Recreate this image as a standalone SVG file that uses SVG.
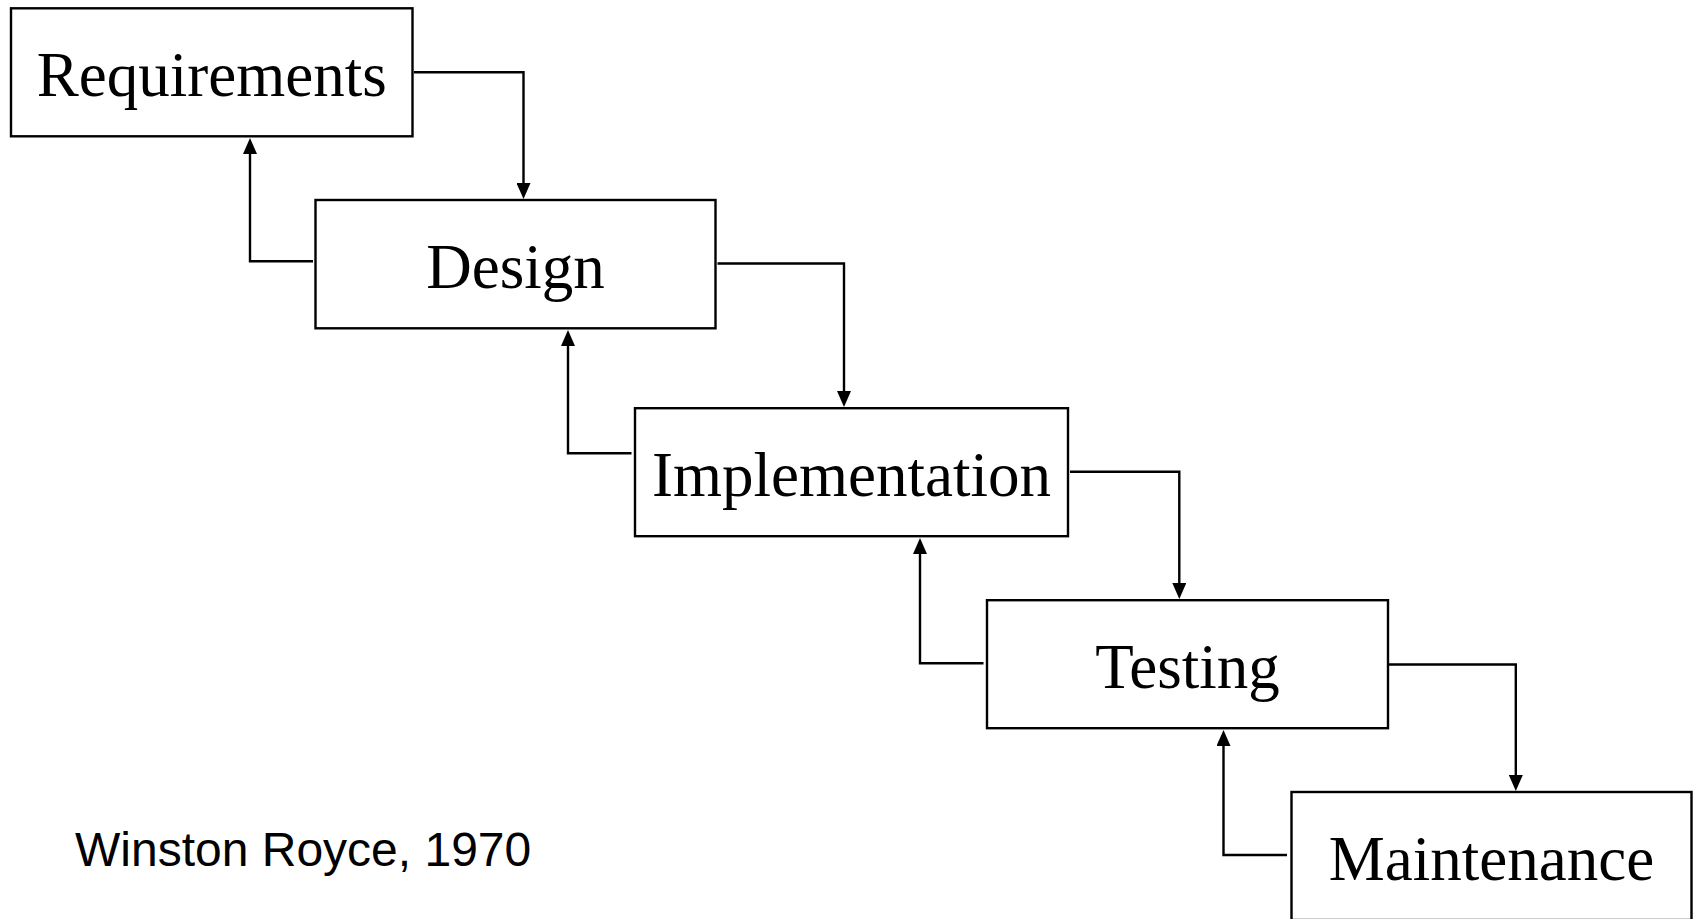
<svg xmlns="http://www.w3.org/2000/svg" width="1693" height="919" viewBox="0 0 1693 919">
  <style>
    .box { fill: #ffffff; stroke: #000000; stroke-width: 2.4; }
    .label { font-family: "Liberation Serif", "Times New Roman", serif; font-size: 63px; fill: #000000; text-anchor: middle; }
    .note { font-family: "Liberation Sans", Arial, sans-serif; font-size: 48px; fill: #000000; }
    .link { fill: none; stroke: #000000; stroke-width: 2.4; marker-end: url(#head); }
  </style>
  <defs>
    <marker id="head" viewBox="0 0 16 14" refX="1" refY="7" markerWidth="16" markerHeight="14" markerUnits="userSpaceOnUse" orient="auto">
      <path d="M0,0 L16,7 L0,14 Z" fill="#000000"/>
    </marker>
  </defs>
  <rect width="1693" height="919" fill="#ffffff"/>

  <!-- phases of the waterfall -->
  <g id="requirements">
    <rect class="box" x="11" y="8.3" width="401.5" height="128"/>
    <text class="label" x="211.7" y="96.3">Requirements</text>
  </g>
  <g id="design">
    <rect class="box" x="315.5" y="200" width="400" height="128.3"/>
    <text class="label" x="515.5" y="288.2">Design</text>
  </g>
  <g id="implementation">
    <rect class="box" x="635" y="408.2" width="433" height="128"/>
    <text class="label" x="851.5" y="496.2">Implementation</text>
  </g>
  <g id="testing">
    <rect class="box" x="987" y="600.2" width="401" height="128"/>
    <text class="label" x="1187.5" y="688.2">Testing</text>
  </g>
  <g id="maintenance">
    <rect class="box" x="1291.5" y="792" width="400" height="128"/>
    <text class="label" x="1491.5" y="880">Maintenance</text>
  </g>

  <!-- forward flow and feedback loops -->
  <g id="connectors">
    <path class="link" d="M414,72.3 H523.5 V184"/>
    <path class="link" d="M313,261.3 H250 V153"/>
    <path class="link" d="M717.5,263.5 H844 V392"/>
    <path class="link" d="M631.5,453.3 H568 V345"/>
    <path class="link" d="M1070,471.8 H1179.3 V584"/>
    <path class="link" d="M983.5,663.3 H920 V553"/>
    <path class="link" d="M1389,664.5 H1515.8 V776"/>
    <path class="link" d="M1287,855 H1223.5 V745"/>
  </g>

  <text id="credit" class="note" x="75" y="866">Winston Royce, 1970</text>
</svg>
